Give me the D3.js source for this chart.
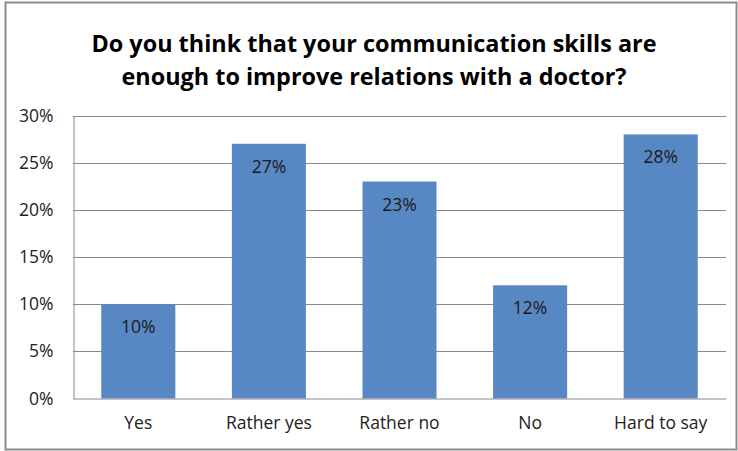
<!DOCTYPE html>
<html>
<head>
<meta charset="utf-8">
<script src="https://cdn.jsdelivr.net/npm/d3@7"></script>
<style>
  html, body { margin: 0; padding: 0; background: #fff; }
  svg { display: block; font-family: "Open Sans", sans-serif; }
</style>
</head>
<body>
<svg id="chart" width="738" height="451"></svg>
<script>
// Survey answers and their shares (percent)
const categories = ["Yes", "Rather yes", "Rather no", "No", "Hard to say"];
const values = [10, 27, 23, 12, 28];
const yTicks = [0, 5, 10, 15, 20, 25, 30];
const titleLines = [
  "Do you think that your communication skills are",
  "enough to improve relations with a doctor?"
];

const svg = d3.select("#chart");
const W = 738, H = 451;
const plot = { left: 73, right: 726, top: 115.5, bottom: 398.5 };
const labelFont = "'Open Sans', sans-serif";
const labelSize = 17.5;

// outer chart frame
svg.append("rect")
  .attr("x", 5.5).attr("y", 2.5)
  .attr("width", W - 7).attr("height", H - 4)
  .attr("fill", "#fff").attr("stroke", "#8c8c8c").attr("stroke-width", 2);

// title
svg.append("g").selectAll("text").data(titleLines).join("text")
  .attr("x", 374).attr("y", (d, i) => 52 + i * 33)
  .attr("text-anchor", "middle")
  .attr("font-size", 23.4).attr("font-weight", "bold").attr("fill", "#000")
  .text(d => d);

const x = d3.scaleBand().domain(categories).range([plot.left, plot.right]).paddingInner(0.433).paddingOuter(0.2165);
const y = d3.scaleLinear().domain([0, 30]).range([plot.bottom, plot.top]);

// gridlines
svg.append("g").selectAll("line").data(yTicks.filter(t => t > 0)).join("line")
  .attr("x1", plot.left).attr("x2", plot.right)
  .attr("y1", d => Math.round(y(d)) + 0.5).attr("y2", d => Math.round(y(d)) + 0.5)
  .attr("stroke", "#8a8a8a").attr("stroke-width", 1);

// y axis
const yAxis = svg.append("g")
  .attr("transform", `translate(${plot.left + 0.5},0)`)
  .call(d3.axisLeft(y).tickValues(yTicks).tickFormat(d => d + "%").tickSize(0).tickPadding(20));
yAxis.select(".domain").attr("stroke", "#8a8a8a");
yAxis.selectAll("text").attr("font-size", labelSize).attr("fill", "#222").attr("font-family", labelFont);

// bars
svg.append("g").selectAll("rect").data(values).join("rect")
  .attr("x", (d, i) => x(categories[i]))
  .attr("width", x.bandwidth())
  .attr("y", d => y(d))
  .attr("height", d => plot.bottom - y(d))
  .attr("fill", "#5888c4");

// value labels inside bars
svg.append("g").selectAll("text").data(values).join("text")
  .attr("x", (d, i) => x(categories[i]) + x.bandwidth() / 2)
  .attr("y", d => y(d) + 29)
  .attr("text-anchor", "middle")
  .attr("font-size", labelSize).attr("fill", "#1a1a1a")
  .text(d => d + "%");

// x axis baseline and category labels
const xAxis = svg.append("g")
  .attr("transform", `translate(0,${plot.bottom})`)
  .call(d3.axisBottom(x).tickSize(0).tickPadding(18));
xAxis.select(".domain").attr("stroke", "#8a8a8a");
xAxis.selectAll("text").attr("font-size", labelSize).attr("fill", "#222").attr("font-family", labelFont);
</script>
</body>
</html>
